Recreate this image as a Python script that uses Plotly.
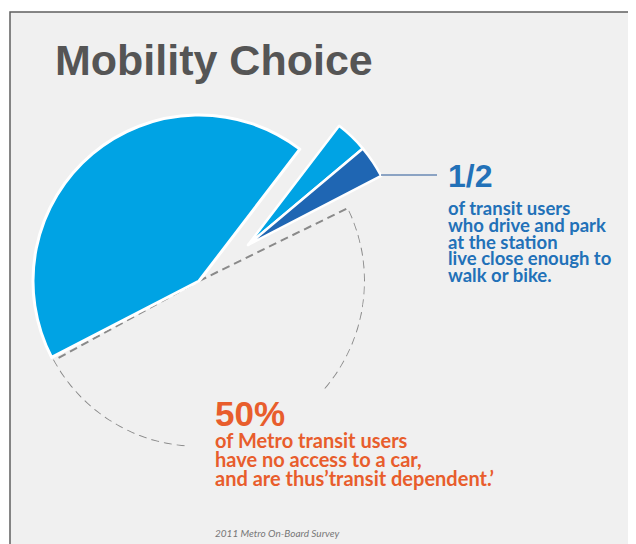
import numpy as np
import plotly.graph_objects as go

W, H = 636, 544
OFF = 8  # page body margin that shifts the figure in the browser

# ---- data ----
slice_labels = ['No access to a car', 'Other transit users',
                'Drive and park, live farther away',
                'Drive and park, live close enough to walk or bike']
slice_values = [50, 43, 3.5, 3.5]

title_text = 'Mobility Choice'
half_headline = '1/2'
half_lines = ['of transit users', 'who drive and park', 'at the station',
              'live close enough to', 'walk or bike.']
car_headline = '50%'
car_lines = ['of Metro transit users', 'have no access to a car,',
             'and are thus’transit dependent.’']
source_text = '2011 Metro On-Board Survey'

# ---- styling ----
BG = '#f0f0f0'
CYAN = '#00a3e4'
DARK = '#1f66b3'
NONE = 'rgba(0,0,0,0)'
BLUE_TXT = '#2271b8'
ORANGE = '#e85d2c'
NARROW = 'Lato, sans-serif'
SANS = 'Liberation Sans, Arial, sans-serif'

cx, cy, R = 199, 281, 166       # pie centre / radius in window px
ex, ey, ER = 248, 245, 150      # centre / radius of the exploded drive-and-park wedge
rotation = 62.6                 # compass angle where first slice starts


def px(x):
    return (x - OFF) / W


def py(y):
    return 1 - (y - OFF) / H


def box(x, y, r):
    return dict(x=[px(x - r), px(x + r)], y=[py(y + r), py(y - r)])


main_domain = box(cx, cy, R)

data = []

# big slice (others transparent)
data.append(go.Pie(
    labels=slice_labels, values=slice_values, sort=False,
    direction='clockwise', rotation=rotation,
    domain=main_domain, textinfo='none', showlegend=False,
    marker=dict(colors=[NONE, CYAN, NONE, NONE],
                line=dict(color='white', width=[0, 3, 0, 0])),
))

# drive-and-park slices, exploded out of the pie
data.append(go.Pie(
    labels=slice_labels, values=slice_values, sort=False,
    direction='clockwise', rotation=rotation,
    domain=box(ex, ey, ER), textinfo='none', showlegend=False,
    marker=dict(colors=[NONE, NONE, CYAN, DARK],
                line=dict(color='white', width=[0, 0, 2.5, 2.5])),
))

# dashed outline of the "no car" slice, with a break where the text sits
total = sum(slice_values)
start = rotation
span = 360 * slice_values[0] / total
inset = 1.3
gap_a, gap_b = start + 0.38 * span, start + 0.68 * span
arc_a = np.linspace(start + inset, gap_a, 60)
arc_b = np.linspace(gap_b, start + span - inset, 60)
theta = [start + inset] + list(arc_a) + [None] + list(arc_b) + [start + span - inset]
r = [0] + [1] * len(arc_a) + [None] + [1] * len(arc_b) + [0]
data.append(go.Scatterpolar(
    r=r, theta=theta, mode='lines', showlegend=False, hoverinfo='skip',
    line=dict(color='#8a8a8a', width=2, dash='8px,5px'),
))

annotations = []


def add_text(text, x, y, size, color, family, bold=True, italic=False):
    annotations.append(dict(
        text=text, x=px(x), y=py(y), xref='paper', yref='paper',
        xanchor='left', yanchor='middle', showarrow=False,
        font=dict(size=size, color=color, family=family,
                  weight='bold' if bold else 'normal',
                  style='italic' if italic else 'normal'),
    ))


add_text(title_text, 53, 60, 43, '#555555', SANS)
add_text(half_headline, 446, 176, 32, BLUE_TXT, SANS)
for i, line in enumerate(half_lines):
    add_text(line, 446, 208 + i * 16.8, 18.5, BLUE_TXT, NARROW)
add_text(car_headline, 213, 413, 35, ORANGE, SANS)
for i, line in enumerate(car_lines):
    add_text(line, 213, 440 + i * 19, 20, ORANGE, NARROW)
add_text(source_text, 213, 533, 10, '#777777', NARROW, bold=False, italic=True)

shapes = [
    # framed panel
    dict(type='rect', xref='paper', yref='paper', layer='below',
         x0=px(10), x1=1.2, y0=-0.2, y1=py(12),
         fillcolor=BG, line=dict(color='#5f5f5f', width=1.5)),
    # leader line to the "1/2" note
    dict(type='line', xref='paper', yref='paper',
         x0=px(381), x1=px(437), y0=py(175), y1=py(175),
         line=dict(color='#6a8ab5', width=1.5)),
]

layout = go.Layout(
    width=W, height=H,
    margin=dict(l=0, r=0, t=0, b=0),
    paper_bgcolor='white',
    plot_bgcolor=BG,
    showlegend=False,
    polar=dict(
        domain=main_domain,
        bgcolor=NONE,
        radialaxis=dict(visible=False, range=[0, 1]),
        angularaxis=dict(visible=False, rotation=90, direction='clockwise'),
    ),
    annotations=annotations,
    shapes=shapes,
)

fig = go.Figure(data=data, layout=layout)
fig.write_html('out.html')
